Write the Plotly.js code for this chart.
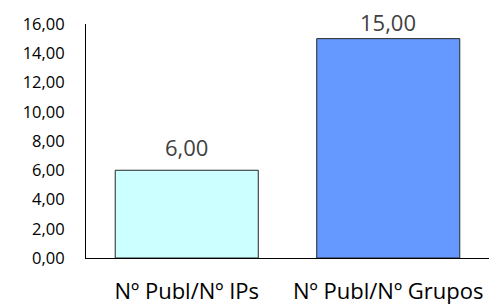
<!DOCTYPE html>
<html><head><meta charset="utf-8">
<script src="https://cdn.plot.ly/plotly-3.0.1.min.js"></script>
<style>html,body{margin:0;padding:0;background:#fff}#chart{width:489px;height:305px}</style>
</head><body><div id="chart"></div>
<script>
const categories = ["Nº Publ/Nº IPs", "Nº Publ/Nº Grupos"];
const values = [6.00, 15.00];
const barColors = ["#CCFFFF", "#6699FF"];
const yTickVals = [0, 2, 4, 6, 8, 10, 12, 14, 16];
const labelShift = [6, 0];

const FONT = '"Open Sans", sans-serif';
const trace = {
  type: 'bar',
  x: categories,
  y: values,
  marker: {color: barColors, line: {color: '#262626', width: 1}},
  hoverinfo: 'none'
};
const annotations = categories.map((c, i) => ({
  x: c, y: values[i], xref: 'x', yref: 'y',
  text: values[i].toFixed(2).replace('.', ','),
  showarrow: false, yanchor: 'bottom', xanchor: 'center',
  yshift: labelShift[i],
  font: {family: FONT, size: 22, color: '#404040'}
}));
const layout = {
  width: 489, height: 305,
  margin: {l: 86, r: 0, t: 24, b: 47},
  paper_bgcolor: '#fff', plot_bgcolor: '#fff',
  separators: ',.',
  bargap: 0.29,
  showlegend: false,
  font: {family: FONT, color: '#000'},
  annotations: annotations,
  xaxis: {
    showline: true, linecolor: '#000', linewidth: 1,
    showgrid: false, zeroline: false, ticks: '',
    tickfont: {size: 22, color: '#000'},
    ticklabelstandoff: 14
  },
  yaxis: {
    range: [0, 16], tickvals: yTickVals, tickformat: '.2f',
    showline: true, linecolor: '#000', linewidth: 1,
    showgrid: false, zeroline: false, ticks: '',
    tickfont: {size: 16.5, color: '#000'},
    ticklabelstandoff: 17
  }
};
Plotly.newPlot('chart', [trace], layout, {displayModeBar: false, staticPlot: true});
</script></body></html>
